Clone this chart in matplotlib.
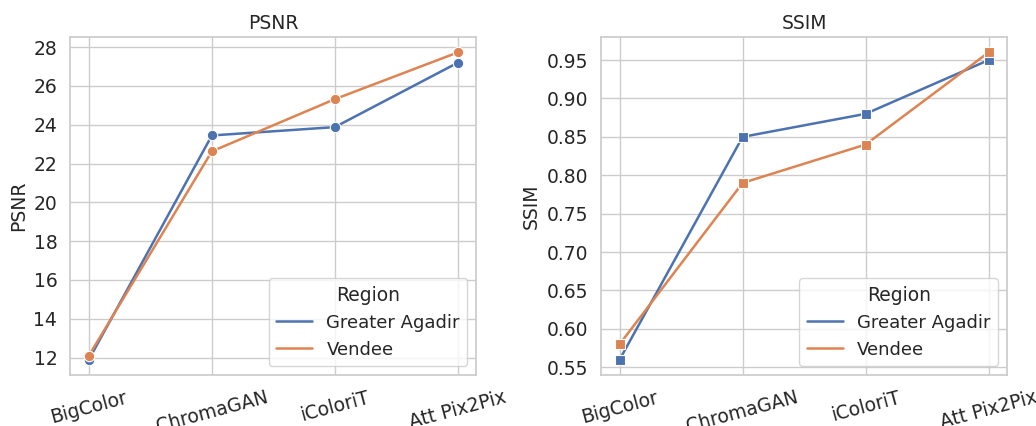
import matplotlib
matplotlib.use('Agg')
import matplotlib.pyplot as plt
from matplotlib.lines import Line2D
import seaborn as sns

models = ['BigColor', 'ChromaGAN', 'iColoriT', 'Att Pix2Pix']
regions = ['Greater Agadir', 'Vendee']

psnr_agadir = [11.9, 23.45, 23.88, 27.2]
psnr_vendee = [12.1, 22.63, 25.32, 27.73]
ssim_agadir = [0.56, 0.85, 0.88, 0.95]
ssim_vendee = [0.58, 0.79, 0.84, 0.96]

psnr_ticks = [12, 14, 16, 18, 20, 22, 24, 26, 28]
ssim_ticks = [0.55, 0.60, 0.65, 0.70, 0.75, 0.80, 0.85, 0.90, 0.95]

sns.set_theme(style='whitegrid', palette='deep')
colors = sns.color_palette('deep')

fig, (ax1, ax2) = plt.subplots(1, 2, figsize=(10.36, 4.26), dpi=100)

# PSNR
ax1.plot(models, psnr_agadir, marker='o', color=colors[0], lw=1.8, ms=7.5, mec='white', mew=0.8)
ax1.plot(models, psnr_vendee, marker='o', color=colors[1], lw=1.8, ms=7.5, mec='white', mew=0.8)
ax1.set_title('PSNR', fontsize=13.5)
ax1.set_ylabel('PSNR', fontsize=13.5)
ax1.set_yticks(psnr_ticks)

# SSIM
ax2.plot(models, ssim_agadir, marker='s', color=colors[0], lw=1.8, ms=7.5, mec='white', mew=0.8)
ax2.plot(models, ssim_vendee, marker='s', color=colors[1], lw=1.8, ms=7.5, mec='white', mew=0.8)
ax2.set_title('SSIM', fontsize=13.5)
ax2.set_ylabel('SSIM', fontsize=13.5)
ax2.set_yticks(ssim_ticks)
ax2.set_yticklabels([f'{v:.2f}' for v in ssim_ticks])

handles = [Line2D([0], [0], color=colors[0], lw=1.8), Line2D([0], [0], color=colors[1], lw=1.8)]
for ax in (ax1, ax2):
    ax.tick_params(axis='both', labelsize=13.5)
    ax.tick_params(axis='x', rotation=15)
    leg = ax.legend(handles, regions, title='Region', loc='lower right', fontsize=13)
    leg.get_title().set_fontsize(13.5)

plt.subplots_adjust(left=0.068, right=0.972, top=0.913, bottom=0.12, wspace=0.308)
fig.savefig('out.png', dpi=100)
